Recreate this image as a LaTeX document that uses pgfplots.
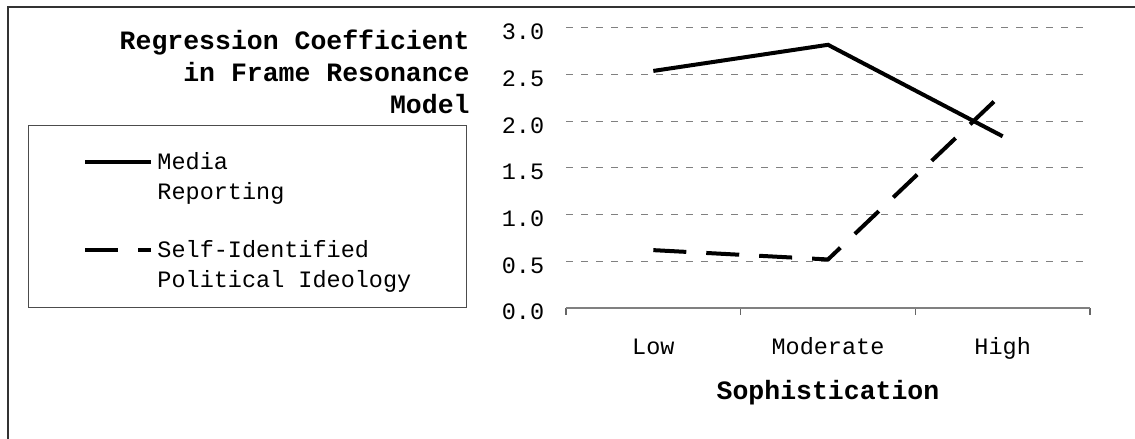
\documentclass[border=0pt]{standalone}
\usepackage{fontspec}
\setmainfont{Liberation Mono}
\usepackage{pgfplots}
\pgfplotsset{compat=1.18}
\begin{document}
\begin{tikzpicture}
\useasboundingbox (0,0) rectangle (567.5pt,219.5pt);
\draw[line width=1pt, black!80] (4pt,0pt) -- (4pt,216pt) -- (567.5pt,216pt);
\begin{axis}[
  at={(283pt,65.5pt)}, anchor=south west,
  scale only axis, width=262pt, height=140pt,
  xmin=0.5, xmax=3.5, ymin=0, ymax=3,
  axis x line*=bottom, axis y line*=left,
  y axis line style={draw=none},
  x axis line style={-, draw=black!50, line width=1pt},
  xtick={0.5,1.5,2.5,3.5},
  x tick label as interval,
  xticklabels={Low,Moderate,High},
  xtick style={draw=black!60, line width=0.75pt},
  xtick align=outside,
  major tick length=3.5pt,
  ytick={0,0.5,1,1.5,2,2.5,3},
  ytick style={draw=none},
  ymajorgrids,
  major grid style={draw=black!50, line width=0.5pt, dash pattern=on 3.5pt off 4pt},
  /pgf/number format/assume math mode=true,
  yticklabel style={/pgf/number format/fixed, /pgf/number format/precision=1, /pgf/number format/fixed zerofill, anchor=east, inner sep=0pt, xshift=-10.7pt, yshift=-2pt},
  ticklabel style={font=\fontsize{11.75}{14}\selectfont},
  xticklabel style={anchor=base, yshift=-20pt, inner sep=0pt},
  xlabel={Sophistication},
  every axis x label/.style={at={(axis description cs:0.5,0)}, anchor=base, yshift=-45.75pt, font=\bfseries\fontsize{13.25}{16}\selectfont},
  ylabel={Regression Coefficient\\in Frame Resonance\\Model},
  every axis y label/.style={at={(axis description cs:0,1)}, anchor=north east, align=right, inner sep=0pt, xshift=-48pt, yshift=-1pt, font=\bfseries\fontsize{13.25}{16}\selectfont},
  legend style={at={(axis description cs:0,0)}, anchor=south west, xshift=-269pt,
    draw=black!70, line width=0.5pt, inner xsep=27.5pt, inner ysep=8.25pt,
    font=\fontsize{11.75}{15}\selectfont,
    nodes={inner sep=0pt, align=left},
    column sep=2pt, row sep=19.4pt},
  legend cell align=left,
]
\addplot[black, line width=2pt,
  legend image code/.code={\path[draw=none,fill=none] (0pt,-10pt) rectangle (33pt,10pt); \draw[black, line width=2pt, solid] (0pt,5pt) -- (33pt,5pt);}]
  coordinates {(1,2.54) (2,2.82) (3,1.84)};
\addlegendentry{\rule{0pt}{13.5pt}Media\\Reporting}
\addplot[black, line width=2pt, dash pattern=on 16.5pt off 10pt,
  legend image code/.code={\path[draw=none,fill=none] (0pt,-10pt) rectangle (33pt,10pt); \draw[black, line width=2pt, dash pattern=on 16.5pt off 10pt] (0pt,8pt) -- (33pt,8pt);}]
  coordinates {(1,0.62) (2,0.52) (3,2.30)};
\addlegendentry{Self-Identified\\Political Ideology}
\end{axis}
\end{tikzpicture}
\end{document}
